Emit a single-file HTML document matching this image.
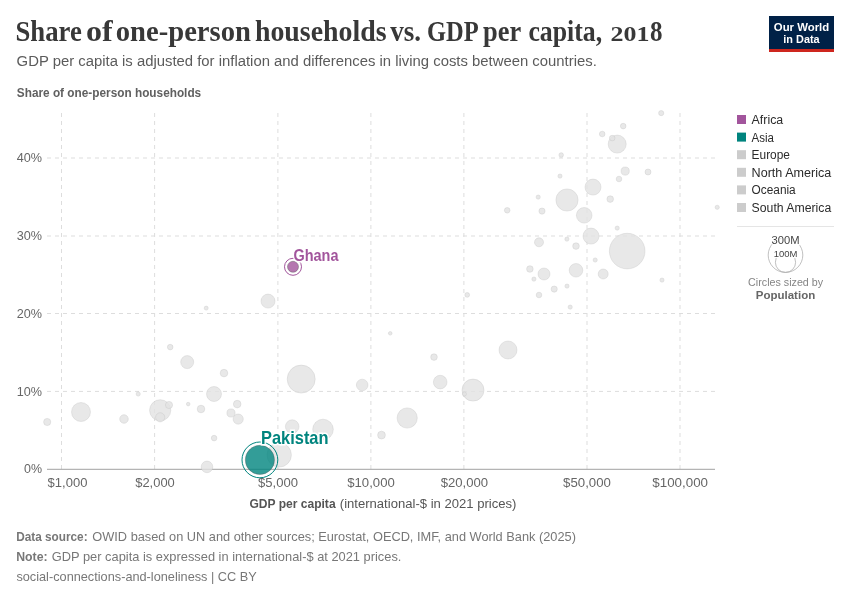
<!DOCTYPE html>
<html><head><meta charset="utf-8"><style>
html,body{margin:0;padding:0;background:#fff;}
svg{display:block;will-change:transform;}
text{font-family:"Liberation Sans",sans-serif;}
</style></head><body>
<svg width="850" height="600" viewBox="0 0 850 600">
<rect width="850" height="600" fill="#fff"/>
<g style="font-family:'Liberation Serif',serif" font-weight="bold" font-size="29" fill="#383838"><text x="15.5" y="40.5" textLength="66.3" lengthAdjust="spacingAndGlyphs" style="font-family:'Liberation Serif',serif">Share</text><text x="86.0" y="40.5" textLength="26.7" lengthAdjust="spacingAndGlyphs" style="font-family:'Liberation Serif',serif">of</text><text x="115.8" y="40.5" textLength="135.1" lengthAdjust="spacingAndGlyphs" style="font-family:'Liberation Serif',serif">one-person</text><text x="254.9" y="40.5" textLength="131.6" lengthAdjust="spacingAndGlyphs" style="font-family:'Liberation Serif',serif">households</text><text x="390.2" y="40.5" textLength="30.9" lengthAdjust="spacingAndGlyphs" style="font-family:'Liberation Serif',serif">vs.</text><text x="426.9" y="40.5" textLength="51.7" lengthAdjust="spacingAndGlyphs" style="font-family:'Liberation Serif',serif">GDP</text><text x="483.1" y="40.5" textLength="38.1" lengthAdjust="spacingAndGlyphs" style="font-family:'Liberation Serif',serif">per</text><text x="528.4" y="40.5" textLength="73.7" lengthAdjust="spacingAndGlyphs" style="font-family:'Liberation Serif',serif">capita,</text><text x="610.6" y="40.5" textLength="38.9" lengthAdjust="spacingAndGlyphs" font-size="20.8" style="font-family:'Liberation Serif',serif">201</text><text x="650.1" y="40.5" textLength="12.5" lengthAdjust="spacingAndGlyphs" style="font-family:'Liberation Serif',serif">8</text></g>
<text x="16.6" y="66.3" font-size="15.5" fill="#5b5b5b" textLength="580.2" lengthAdjust="spacingAndGlyphs">GDP per capita is adjusted for inflation and differences in living costs between countries.</text>
<g>
<rect x="769" y="16" width="65" height="36" fill="#002147"/>
<rect x="769" y="49" width="65" height="3" fill="#ce261e"/>
<text x="801.5" y="30.5" text-anchor="middle" font-size="11.5" font-weight="bold" fill="#fff" textLength="55.3" lengthAdjust="spacingAndGlyphs">Our World</text>
<text x="801.5" y="42.5" text-anchor="middle" font-size="11.5" font-weight="bold" fill="#fff" textLength="36.3" lengthAdjust="spacingAndGlyphs">in Data</text>
</g>
<text x="16.8" y="97" font-size="12.5" font-weight="bold" fill="#606060" textLength="184.4" lengthAdjust="spacingAndGlyphs">Share of one-person households</text>
<g stroke="#dddddd" stroke-width="1" stroke-dasharray="4,4" fill="none"><line x1="61.5" y1="113" x2="61.5" y2="469"/><line x1="154.6" y1="113" x2="154.6" y2="469"/><line x1="277.9" y1="113" x2="277.9" y2="469"/><line x1="370.9" y1="113" x2="370.9" y2="469"/><line x1="463.9" y1="113" x2="463.9" y2="469"/><line x1="587" y1="113" x2="587" y2="469"/><line x1="680" y1="113" x2="680" y2="469"/><line x1="47" y1="158.0" x2="715" y2="158.0"/><line x1="47" y1="236.0" x2="715" y2="236.0"/><line x1="47" y1="313.5" x2="715" y2="313.5"/><line x1="47" y1="391.4" x2="715" y2="391.4"/></g>
<line x1="47" y1="469.3" x2="715" y2="469.3" stroke="#a2a2a2" stroke-width="1"/>
<g font-size="13" fill="#666" text-anchor="middle"><text x="67.5" y="487" textLength="39.8" lengthAdjust="spacingAndGlyphs">$1,000</text><text x="155" y="487" textLength="39.5" lengthAdjust="spacingAndGlyphs">$2,000</text><text x="278" y="487" textLength="40" lengthAdjust="spacingAndGlyphs">$5,000</text><text x="371" y="487" textLength="47.5" lengthAdjust="spacingAndGlyphs">$10,000</text><text x="464.4" y="487" textLength="47.4" lengthAdjust="spacingAndGlyphs">$20,000</text><text x="587" y="487" textLength="47.8" lengthAdjust="spacingAndGlyphs">$50,000</text><text x="680.2" y="487" textLength="55.7" lengthAdjust="spacingAndGlyphs">$100,000</text></g>
<g font-size="13" fill="#666" text-anchor="end"><text x="42" y="162.2" textLength="25.3" lengthAdjust="spacingAndGlyphs">40%</text><text x="42" y="240.1" textLength="25.3" lengthAdjust="spacingAndGlyphs">30%</text><text x="42" y="317.7" textLength="25.3" lengthAdjust="spacingAndGlyphs">20%</text><text x="42" y="395.6" textLength="25.3" lengthAdjust="spacingAndGlyphs">10%</text><text x="42" y="473.3" textLength="18" lengthAdjust="spacingAndGlyphs">0%</text></g>
<text x="249.4" y="508.2" font-size="12.3" fill="#555" font-weight="bold" textLength="86.2" lengthAdjust="spacingAndGlyphs">GDP per capita</text><text x="339.8" y="508.2" font-size="12.3" fill="#555" textLength="176.6" lengthAdjust="spacingAndGlyphs">(international-$ in 2021 prices)</text>
<g fill="#e2e2e2" fill-opacity="0.8" stroke="#c0c0c0" stroke-opacity="0.55" stroke-width="0.6">
<circle cx="627.2" cy="251.1" r="17.8"/>
<circle cx="301.2" cy="379.1" r="14.0"/>
<circle cx="279.2" cy="454.9" r="12.2"/>
<circle cx="567.0" cy="200.0" r="11.1"/>
<circle cx="473.0" cy="390.1" r="11.0"/>
<circle cx="160.2" cy="410.3" r="10.6"/>
<circle cx="323.0" cy="429.5" r="10.3"/>
<circle cx="407.2" cy="418.0" r="10.1"/>
<circle cx="81.0" cy="412.0" r="9.5"/>
<circle cx="617.2" cy="144.1" r="9.0"/>
<circle cx="508.0" cy="350.0" r="9.0"/>
<circle cx="593.0" cy="187.1" r="8.0"/>
<circle cx="591.0" cy="236.1" r="8.0"/>
<circle cx="584.2" cy="215.3" r="7.8"/>
<circle cx="214.0" cy="394.0" r="7.5"/>
<circle cx="268.0" cy="301.1" r="7.0"/>
<circle cx="576.0" cy="270.3" r="6.8"/>
<circle cx="440.2" cy="382.1" r="6.8"/>
<circle cx="292.2" cy="426.6" r="6.8"/>
<circle cx="187.2" cy="362.1" r="6.5"/>
<circle cx="544.0" cy="274.0" r="6.0"/>
<circle cx="362.2" cy="385.0" r="5.8"/>
<circle cx="207.0" cy="466.9" r="5.8"/>
<circle cx="238.2" cy="419.1" r="5.1"/>
<circle cx="603.2" cy="274.0" r="5.0"/>
<circle cx="160.2" cy="417.3" r="4.6"/>
<circle cx="539.0" cy="242.3" r="4.5"/>
<circle cx="124.0" cy="419.0" r="4.3"/>
<circle cx="625.2" cy="171.1" r="4.1"/>
<circle cx="231.0" cy="413.0" r="4.1"/>
<circle cx="381.5" cy="435.1" r="3.9"/>
<circle cx="224.0" cy="373.1" r="3.8"/>
<circle cx="201.0" cy="409.0" r="3.8"/>
<circle cx="237.2" cy="404.1" r="3.8"/>
<circle cx="169.0" cy="405.0" r="3.6"/>
<circle cx="47.2" cy="422.0" r="3.6"/>
<circle cx="610.2" cy="199.1" r="3.3"/>
<circle cx="576.0" cy="246.1" r="3.3"/>
<circle cx="529.9" cy="269.0" r="3.3"/>
<circle cx="434.0" cy="357.1" r="3.3"/>
<circle cx="542.0" cy="211.1" r="3.1"/>
<circle cx="554.2" cy="289.1" r="3.1"/>
<circle cx="648.0" cy="172.0" r="3.0"/>
<circle cx="623.2" cy="126.1" r="2.8"/>
<circle cx="602.2" cy="134.0" r="2.8"/>
<circle cx="612.2" cy="138.1" r="2.8"/>
<circle cx="619.0" cy="179.0" r="2.8"/>
<circle cx="507.2" cy="210.3" r="2.8"/>
<circle cx="539.0" cy="295.0" r="2.8"/>
<circle cx="170.2" cy="347.1" r="2.8"/>
<circle cx="214.1" cy="438.1" r="2.8"/>
<circle cx="661.2" cy="113.1" r="2.6"/>
<circle cx="467.2" cy="294.9" r="2.4"/>
<circle cx="561.2" cy="155.0" r="2.3"/>
<circle cx="560.0" cy="176.1" r="2.1"/>
<circle cx="538.2" cy="197.1" r="2.1"/>
<circle cx="717.2" cy="207.3" r="2.1"/>
<circle cx="617.2" cy="228.1" r="2.1"/>
<circle cx="566.9" cy="239.1" r="2.1"/>
<circle cx="595.2" cy="260.0" r="2.1"/>
<circle cx="533.9" cy="279.1" r="2.1"/>
<circle cx="567.0" cy="286.1" r="2.1"/>
<circle cx="662.0" cy="280.1" r="2.1"/>
<circle cx="570.2" cy="307.1" r="2.1"/>
<circle cx="464.4" cy="394.0" r="2.1"/>
<circle cx="138.2" cy="394.0" r="2.1"/>
<circle cx="206.2" cy="308.1" r="2.0"/>
<circle cx="390.2" cy="333.3" r="1.8"/>
<circle cx="188.2" cy="404.1" r="1.8"/>
</g>
<circle cx="293" cy="266.8" r="8.5" fill="none" stroke="#a2559c" stroke-width="1"/>
<circle cx="293" cy="266.8" r="5.5" fill="#a2559c" fill-opacity="0.8" stroke="#555" stroke-opacity="0.6" stroke-width="0.7"/>
<circle cx="259.9" cy="459.9" r="17.9" fill="none" stroke="#00847e" stroke-width="1"/>
<circle cx="259.9" cy="459.9" r="14.6" fill="#00847e" fill-opacity="0.8" stroke="#555" stroke-opacity="0.5" stroke-width="0.7"/>
<text x="293.5" y="260.8" font-size="16.3" font-weight="bold" fill="#a2559c" stroke="#fff" stroke-width="3" paint-order="stroke" textLength="45" lengthAdjust="spacingAndGlyphs">Ghana</text>
<text x="261" y="443.7" font-size="18.5" font-weight="bold" fill="#00847e" stroke="#fff" stroke-width="3" paint-order="stroke" textLength="67.5" lengthAdjust="spacingAndGlyphs">Pakistan</text>
<g font-size="12.5" fill="#2b2b2b"><rect x="737" y="115.0" width="9" height="9" fill="#a2559c"/><text x="751.6" y="123.9" textLength="31.6" lengthAdjust="spacingAndGlyphs">Africa</text><rect x="737" y="132.6" width="9" height="9" fill="#00847e"/><text x="751.6" y="141.5" textLength="22.4" lengthAdjust="spacingAndGlyphs">Asia</text><rect x="737" y="150.2" width="9" height="9" fill="#cccccc"/><text x="751.6" y="159.1" textLength="38.4" lengthAdjust="spacingAndGlyphs">Europe</text><rect x="737" y="167.8" width="9" height="9" fill="#cccccc"/><text x="751.6" y="176.7" textLength="79.7" lengthAdjust="spacingAndGlyphs">North America</text><rect x="737" y="185.4" width="9" height="9" fill="#cccccc"/><text x="751.6" y="194.3" textLength="44.1" lengthAdjust="spacingAndGlyphs">Oceania</text><rect x="737" y="203.0" width="9" height="9" fill="#cccccc"/><text x="751.6" y="211.9" textLength="79.7" lengthAdjust="spacingAndGlyphs">South America</text></g>
<line x1="737" y1="226.5" x2="834" y2="226.5" stroke="#e5e5e5" stroke-width="1"/>
<circle cx="785.5" cy="255.1" r="17.3" fill="none" stroke="#a5a5a5" stroke-width="0.7"/>
<circle cx="785.5" cy="262.3" r="10.1" fill="none" stroke="#a5a5a5" stroke-width="0.7"/>
<text x="785.5" y="243.5" font-size="10" fill="#444" text-anchor="middle" stroke="#fff" stroke-width="2" paint-order="stroke" textLength="28" lengthAdjust="spacingAndGlyphs">300M</text>
<text x="785.5" y="257" font-size="9" fill="#444" text-anchor="middle" stroke="#fff" stroke-width="2" paint-order="stroke" textLength="23.7" lengthAdjust="spacingAndGlyphs">100M</text>
<text x="785.6" y="285.5" font-size="11.2" fill="#858585" text-anchor="middle" textLength="75" lengthAdjust="spacingAndGlyphs">Circles sized by</text>
<text x="785.5" y="299.3" font-size="11.5" font-weight="bold" fill="#666" text-anchor="middle">Population</text>
<g font-size="13.5" fill="#777">
<text x="16.2" y="540.8" font-weight="bold" textLength="71.4" lengthAdjust="spacingAndGlyphs">Data source:</text><text x="92.3" y="540.8" textLength="483.6" lengthAdjust="spacingAndGlyphs">OWID based on UN and other sources; Eurostat, OECD, IMF, and World Bank (2025)</text>
<text x="16.2" y="560.9" font-weight="bold" textLength="31.4" lengthAdjust="spacingAndGlyphs">Note:</text><text x="51.8" y="560.9" textLength="349.6" lengthAdjust="spacingAndGlyphs">GDP per capita is expressed in international-$ at 2021 prices.</text>
<text x="16.4" y="580.7" textLength="240.4" lengthAdjust="spacingAndGlyphs">social-connections-and-loneliness | CC BY</text>
</g>
</svg>
</body></html>
